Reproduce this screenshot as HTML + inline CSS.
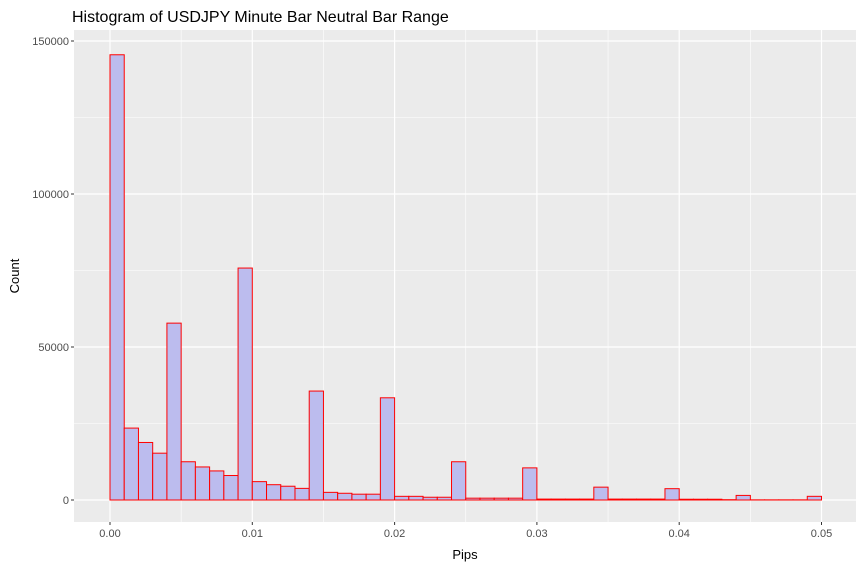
<!DOCTYPE html>
<html><head><meta charset="utf-8"><style>
body{margin:0;background:#fff;}
svg{display:block;font-family:"Liberation Sans",Arial,sans-serif;}
</style></head><body>
<svg id="chart" width="864" height="568">
<rect x="0" y="0" width="864" height="568" fill="#fff"/>
<rect x="74" y="30" width="782" height="492" fill="#ebebeb"/>
<g id="grid"></g>
<g id="bars"></g>
<g id="axes"></g>
<text x="72" y="22" font-size="16" fill="#000">Histogram of USDJPY Minute Bar Neutral Bar Range</text>
<text x="465" y="559" font-size="13" text-anchor="middle" fill="#000">Pips</text>
<text transform="translate(19,276) rotate(-90)" font-size="13" text-anchor="middle" fill="#000">Count</text>
</svg>
<script>
const binWidth = 0.001;
const counts = [145500,23500,18800,15300,57800,12500,10800,9500,8000,75800,
6000,5000,4500,3800,35600,2500,2200,1900,1900,33400,
1200,1200,900,900,12500,600,600,600,600,10500,
300,300,300,300,4200,300,300,300,300,3700,
250,250,250,100,1500,50,50,50,50,1200];
const xTicks = [0,0.01,0.02,0.03,0.04,0.05];
const xTickLabels = ["0.00","0.01","0.02","0.03","0.04","0.05"];
const yTicks = [0,50000,100000,150000];
const yTickLabels = ["0","50000","100000","150000"];

const NS="http://www.w3.org/2000/svg";
const px0=74,px1=856,py0=30,py1=522;
function xs(v){return 110+v*14230;}
function ys(v){return 500-v*(459/150000);}
function mk(tag,attrs,parent){const e=document.createElementNS(NS,tag);for(const k in attrs)e.setAttribute(k,attrs[k]);parent.appendChild(e);return e;}
const grid=document.getElementById('grid'),bars=document.getElementById('bars'),axes=document.getElementById('axes');
// minor grid
for(let i=0;i<xTicks.length-1;i++){const m=(xTicks[i]+xTicks[i+1])/2;
 const l=mk('line',{x1:xs(m),x2:xs(m),y1:py0,y2:py1,stroke:'#fff','stroke-width':0.6},grid);
 
 }
for(let i=0;i<yTicks.length;i++){const m=yTicks[i]+25000;
 if(ys(m)>py0){const l=mk('line',{x1:px0,x2:px1,y1:ys(m),y2:ys(m),stroke:'#fff','stroke-width':0.6},grid);
 
 }}
xTicks.forEach((t,i)=>{
 const l=mk('line',{x1:xs(t),x2:xs(t),y1:py0,y2:py1,stroke:'#fff','stroke-width':1.2},grid);
 
 
 const tk=mk('line',{x1:xs(t),x2:xs(t),y1:py1,y2:py1+3,stroke:'#333','stroke-width':1},axes);
 
 
 const tx=mk('text',{x:xs(t),y:py1+15,'font-size':11,'text-anchor':'middle',fill:'#4d4d4d'},axes);
 tx.textContent=xTickLabels[i];
 
 
});
yTicks.forEach((t,i)=>{
 const l=mk('line',{x1:px0,x2:px1,y1:ys(t),y2:ys(t),stroke:'#fff','stroke-width':1.2},grid);
 
 
 const tk=mk('line',{x1:px0-3,x2:px0,y1:ys(t),y2:ys(t),stroke:'#333','stroke-width':1},axes);
 
 
 const tx=mk('text',{x:px0-5,y:ys(t)+4,'font-size':11,'text-anchor':'end',fill:'#4d4d4d'},axes);
 tx.textContent=yTickLabels[i];
 
 
});
counts.forEach((c,i)=>{
 const x0=xs(i*binWidth),x1=xs((i+1)*binWidth);
 const r=mk('rect',{x:x0,y:ys(c),width:x1-x0,height:ys(0)-ys(c),fill:'#bcbcee',stroke:'#ff0000','stroke-width':1},bars);
 
 
});
</script>
</body></html>
